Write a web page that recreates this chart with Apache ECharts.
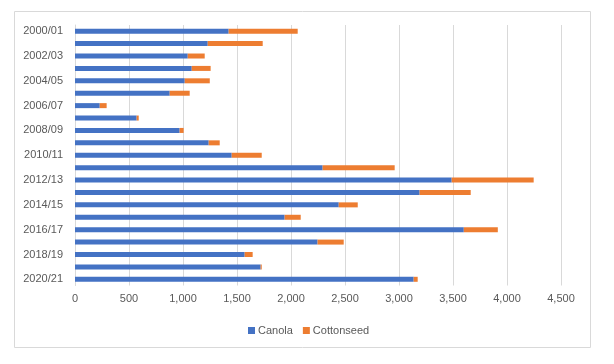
<!DOCTYPE html>
<html>
<head>
<meta charset="utf-8">
<script src="https://cdn.jsdelivr.net/npm/echarts@6/dist/echarts.min.js"></script>
<style>
html,body{margin:0;padding:0;background:#fff;}
#chart{width:614px;height:364px;}
</style>
</head>
<body>
<div id="chart"></div>
<script>
const categories = ['2000/01','2001/02','2002/03','2003/04','2004/05','2005/06','2006/07','2007/08','2008/09','2009/10','2010/11','2011/12','2012/13','2013/14','2014/15','2015/16','2016/17','2017/18','2018/19','2019/20','2020/21'];
const canola = [1423,1229,1044,1081,1016,877,229,571,969,1238,1451,2293,3488,3191,2442,1941,3600,2246,1571,1719,3136];
const cottonseed = [639,509,157,175,232,185,64,19,37,102,278,667,759,473,176,149,315,242,74,10,37];
const xTicks = [0,500,1000,1500,2000,2500,3000,3500,4000,4500];

const chart = echarts.init(document.getElementById('chart'));
const font = '"Liberation Sans", Arial, sans-serif';
chart.setOption({
  animation: false,
  textStyle: {fontFamily: font},
  graphic: [{
    type: 'rect', shape: {x: 14.5, y: 11.5, width: 576, height: 336},
    style: {fill: 'none', stroke: '#d9d9d9', lineWidth: 1}, silent: true
  }],
  grid: {left: 75, right: 53, top: 25, bottom: 78.5, containLabel: false},
  legend: {
    data: ['Canola', 'Cottonseed'],
    left: 243, top: 320,
    itemWidth: 7, itemHeight: 7, itemGap: 10,
    icon: 'rect',
    textStyle: {color: '#595959', fontSize: 11, fontFamily: font, padding: [0,0,0,-2]}
  },
  xAxis: {
    type: 'value', min: xTicks[0], max: xTicks[xTicks.length-1], interval: 500,
    axisLine: {show: false}, axisTick: {show: false},
    splitLine: {lineStyle: {color: '#d9d9d9', width: 1}},
    axisLabel: {color: '#595959', fontSize: 11, margin: 8,
      formatter: v => v.toLocaleString('en-US')}
  },
  yAxis: {
    type: 'category', data: categories, inverse: true,
    axisLine: {lineStyle: {color: '#d9d9d9'}}, axisTick: {show: false},
    axisLabel: {color: '#595959', fontSize: 11, interval: 1, margin: 12}
  },
  series: [
    {name: 'Canola', type: 'bar', stack: 'a', data: canola, barWidth: 5,
     itemStyle: {color: '#4472C4'}},
    {name: 'Cottonseed', type: 'bar', stack: 'a', data: cottonseed, barWidth: 5,
     itemStyle: {color: '#ED7D31'}}
  ]
});
</script>
</body>
</html>
